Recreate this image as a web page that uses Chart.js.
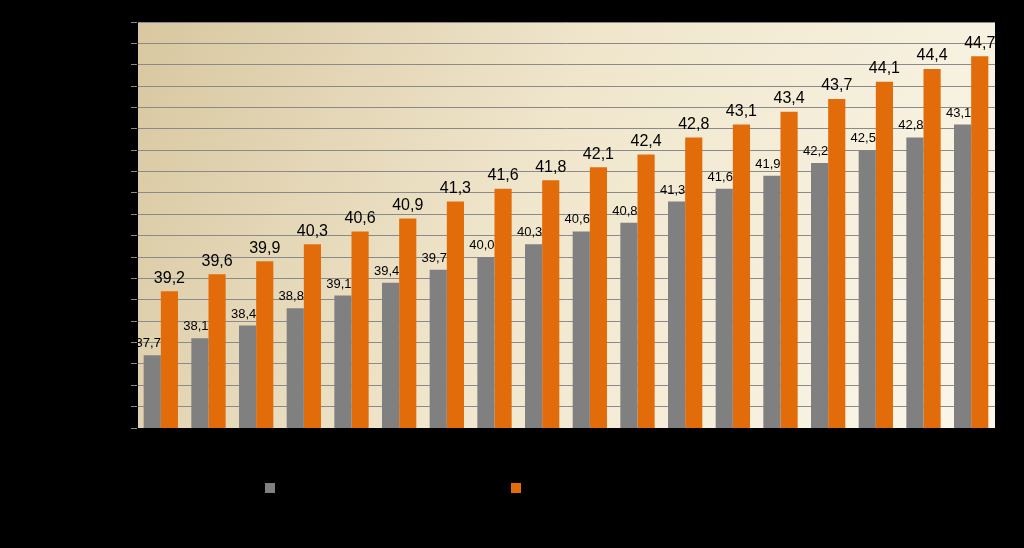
<!DOCTYPE html>
<html>
<head>
<meta charset="utf-8">
<script src="https://cdn.jsdelivr.net/npm/chart.js@4/dist/chart.umd.min.js"></script>
<style>
  html, body { margin: 0; padding: 0; background: #000; }
  #wrap { width: 1024px; height: 548px; }
</style>
</head>
<body>
<div id="wrap"><canvas id="c" width="1024" height="548"></canvas></div>
<script>
const categories = ['1990','1991','1992','1993','1994','1995','1996','1997','1998','1999','2000','2001','2002','2003','2004','2005','2006','2007'];
const greyValues = [37.7, 38.1, 38.4, 38.8, 39.1, 39.4, 39.7, 40.0, 40.3, 40.6, 40.8, 41.3, 41.6, 41.9, 42.2, 42.5, 42.8, 43.1];
const orangeValues = [39.2, 39.6, 39.9, 40.3, 40.6, 40.9, 41.3, 41.6, 41.8, 42.1, 42.4, 42.8, 43.1, 43.4, 43.7, 44.1, 44.4, 44.7];
const seriesNames = ['Männer', 'Frauen'];

// gradient behind the plot area
const plotBg = {
    id: 'plotBg',
    beforeDraw(chart) {
        const a = chart.chartArea, ctx = chart.ctx;
        const g = ctx.createLinearGradient(a.left, a.top, a.right, a.bottom);
        g.addColorStop(0, '#d8c7a0');
        g.addColorStop(0.45, '#f0e6cc');
        g.addColorStop(1, '#fbf7ea');
        ctx.save();
        ctx.fillStyle = g;
        ctx.fillRect(a.left, a.top, a.right - a.left, a.bottom - a.top);
        ctx.restore();
    }
};

// value labels above bars
const valueLabels = {
    id: 'valueLabels',
    afterDatasetsDraw(chart) {
        const ctx = chart.ctx;
        ctx.save();
        ctx.fillStyle = '#000';
        ctx.textAlign = 'center';
        ctx.textBaseline = 'bottom';
        chart.data.datasets.forEach((ds, i) => {
            ctx.font = i === 0 ? '13px "Liberation Sans", Arial' : '16px "Liberation Sans", Arial';
            chart.getDatasetMeta(i).data.forEach((bar, j) => {
                const dx = i === 0 ? -4 : 0;
                ctx.fillText(ds.data[j].toFixed(1).replace('.', ','), bar.x + dx, bar.y - 5);
            });
        });
        ctx.restore();
    }
};

// simple legend markers below the chart
const legendMarks = {
    id: 'legendMarks',
    afterDraw(chart) {
        const ctx = chart.ctx;
        const xs = [265, 511];
        ctx.save();
        chart.data.datasets.forEach((ds, i) => {
            ctx.fillStyle = ds.backgroundColor;
            ctx.fillRect(xs[i], 483, 10, 10);
            ctx.fillStyle = '#000';
            ctx.font = '13px "Liberation Sans", Arial';
            ctx.textBaseline = 'middle';
            ctx.fillText(ds.label, xs[i] + 16, 488);
        });
        ctx.restore();
    }
};

new Chart(document.getElementById('c').getContext('2d'), {
    type: 'bar',
    data: {
        labels: categories,
        datasets: [
            { label: seriesNames[0], data: greyValues, backgroundColor: '#808080' },
            { label: seriesNames[1], data: orangeValues, backgroundColor: '#e36c0a' }
        ]
    },
    options: {
        responsive: false,
        animation: false,
        layout: { padding: { left: 0, right: 29, top: 22, bottom: 0 } },
        datasets: { bar: { categoryPercentage: 0.72, barPercentage: 1 } },
        plugins: { legend: { display: false }, tooltip: { enabled: false } },
        scales: {
            x: {
                grid: { display: true, drawOnChartArea: false, color: '#000', tickLength: 5 },
                border: { color: '#000' },
                ticks: { color: '#000' },
                afterFit(s) { s.height = 120; }
            },
            y: {
                min: 36, max: 45.5,
                grid: { color: '#8a8a8a', tickLength: 6 },
                border: { color: '#000' },
                ticks: { stepSize: 0.5, color: '#000' },
                afterFit(s) { s.width = 137; }
            }
        }
    },
    plugins: [plotBg, valueLabels, legendMarks]
});
</script>
</body>
</html>
